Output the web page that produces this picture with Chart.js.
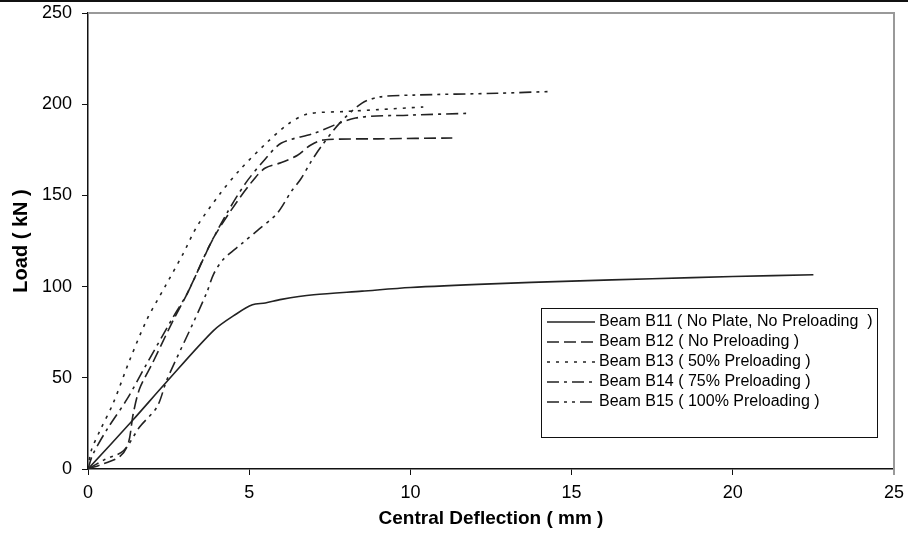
<!DOCTYPE html>
<html>
<head>
<meta charset="utf-8">
<script src="https://cdn.jsdelivr.net/npm/chart.js@4.4.1/dist/chart.umd.min.js"></script>
<style>
  html, body { margin: 0; padding: 0; background: #fff; }
  #wrap { position: relative; width: 908px; height: 540px; }
  #rule { position: absolute; left: 0; top: 0; width: 908px; height: 2px; background: #111; }
</style>
</head>
<body>
<div id="wrap">
  <canvas id="chart" width="908" height="540"></canvas>
  <div id="rule"></div>
</div>
<script>
// Load vs central deflection
const b11Defl = [0, 1.4, 2.4, 3.9, 4.6, 5.1, 5.5, 6, 7, 8.5, 10, 12.5, 15, 17.5, 20, 22.5];
const b11Load = [0, 27, 47, 76, 85, 90, 91, 93, 95.5, 97.5, 99.5, 101.5, 103, 104.3, 105.5, 106.5];

const b12Defl = [0, 0.5, 1, 1.25, 1.4, 1.6, 2, 2.6, 3.1, 3.6, 3.9, 4.6, 5.2, 5.5, 6, 6.5, 6.9, 7.3, 9, 11.3];
const b12Load = [0, 3, 7, 14, 30, 44, 58, 80, 97, 116, 127, 146, 160, 165, 168, 172, 177.5, 180.4, 181, 181.5];

const b13Defl = [0, 0.1, 0.37, 0.78, 1.3, 1.83, 2.39, 2.95, 3.38, 4.1, 4.71, 5.55, 6.2, 6.8, 8, 9, 10.4];
const b13Load = [0, 10, 21, 36, 60, 82, 100, 118, 133, 151, 164, 179, 189, 194.6, 196, 197, 198.5];

const b14Defl = [0, 0.15, 0.6, 1.2, 1.8, 2.6, 3.1, 3.7, 4.3, 4.9, 5.5, 6, 7, 8.3, 10, 11.75];
const b14Load = [0, 8, 22, 38, 57, 82, 97, 120, 140, 157, 170, 178.7, 184, 192.4, 194, 195];

const b15Defl = [0, 0.5, 1.1, 1.6, 2.14, 2.45, 3.26, 3.69, 3.9, 4.2, 4.8, 5.27, 5.86, 6.3, 6.6, 6.9, 7.2, 7.8, 8.5, 9.06, 10.1, 12.7, 14.4];
const b15Load = [0, 5, 10, 23, 34, 49, 80, 97, 107, 115, 124, 131, 140, 152, 159, 168, 176, 189.5, 200.6, 204, 205, 206, 207];

const seriesNames = [
  'Beam B11 ( No Plate, No Preloading  )',
  'Beam B12 ( No Preloading )',
  'Beam B13 ( 50% Preloading )',
  'Beam B14 ( 75% Preloading )',
  'Beam B15 ( 100% Preloading )'
];

const xTicks = [0, 5, 10, 15, 20, 25];
const yTicks = [0, 50, 100, 150, 200, 250];

const dashes = [[], [12, 5], [3, 6], [12, 5, 3, 5], [12, 5, 3, 5, 3, 5]];

function pts(xs, ys) {
  return xs.map((x, i) => ({ x: x, y: ys[i] }));
}

const allData = [
  pts(b11Defl, b11Load),
  pts(b12Defl, b12Load),
  pts(b13Defl, b13Load),
  pts(b14Defl, b14Load),
  pts(b15Defl, b15Load)
];

// legend box drawn inside the plot + grey frame on top/right
const boxLegend = {
  id: 'boxLegend',
  afterDraw(chart) {
    const ctx = chart.ctx;
    const a = chart.chartArea;
    ctx.save();
    ctx.strokeStyle = '#999';
    ctx.lineWidth = 2;
    ctx.beginPath();
    ctx.moveTo(a.left, a.top);
    ctx.lineTo(a.right, a.top);
    ctx.lineTo(a.right, a.bottom + 6);
    ctx.stroke();

    const bx = 541, by = 308, bw = 336, bh = 129;
    ctx.fillStyle = '#fff';
    ctx.fillRect(bx, by, bw, bh);
    ctx.strokeStyle = '#111';
    ctx.lineWidth = 1;
    ctx.strokeRect(bx + 0.5, by + 0.5, bw, bh);

    ctx.font = '16px "Liberation Sans", Arial, sans-serif';
    ctx.textBaseline = 'middle';
    chart.data.datasets.forEach((ds, i) => {
      const y = by + 14 + i * 20;
      ctx.strokeStyle = '#222';
      ctx.lineWidth = 1.6;
      ctx.setLineDash(ds.borderDash || []);
      ctx.beginPath();
      ctx.moveTo(bx + 6, y);
      ctx.lineTo(bx + 54, y);
      ctx.stroke();
      ctx.setLineDash([]);
      ctx.fillStyle = '#000';
      ctx.fillText(ds.label, bx + 58, y);
    });
    ctx.restore();
  }
};

new Chart(document.getElementById('chart'), {
  type: 'line',
  data: {
    datasets: allData.map((d, i) => ({
      label: seriesNames[i],
      data: d,
      borderColor: '#222',
      borderWidth: 1.6,
      borderDash: dashes[i],
      pointRadius: 0,
      fill: false,
      tension: 0.3
    }))
  },
  options: {
    responsive: false,
    animation: false,
    devicePixelRatio: 1,
    layout: { padding: { top: 13, right: 14, left: 0, bottom: 0 } },
    plugins: {
      legend: { display: false },
      tooltip: { enabled: false }
    },
    scales: {
      x: {
        type: 'linear',
        min: 0,
        max: 25,
        afterFit: s => { s.height = 71; s.paddingLeft = 0; s.paddingRight = 0; },
        afterBuildTicks: s => { s.ticks = xTicks.map(v => ({ value: v })); },
        border: { color: '#111', width: 1.5 },
        grid: { drawOnChartArea: false, drawTicks: true, tickLength: 6, color: '#111' },
        ticks: {
          color: '#000',
          padding: 7,
          maxRotation: 0,
          font: { family: '"Liberation Sans", Arial, sans-serif', size: 18 }
        },
        title: {
          display: true,
          text: 'Central Deflection ( mm )',
          color: '#000',
          padding: { top: 0, bottom: 10 },
          font: { family: '"Liberation Sans", Arial, sans-serif', size: 19, weight: 'bold' }
        }
      },
      y: {
        min: 0,
        max: 250,
        afterFit: s => { s.width = 88; s.paddingTop = 0; s.paddingBottom = 0; },
        afterBuildTicks: s => { s.ticks = yTicks.map(v => ({ value: v })); },
        border: { color: '#111', width: 1.5 },
        grid: { drawOnChartArea: false, drawTicks: true, tickLength: 6, color: '#111' },
        ticks: {
          color: '#000',
          padding: 10,
          font: { family: '"Liberation Sans", Arial, sans-serif', size: 18 }
        },
        title: {
          display: true,
          text: 'Load ( kN )',
          color: '#000',
          padding: { top: 9, bottom: 0 },
          font: { family: '"Liberation Sans", Arial, sans-serif', size: 20, weight: 'bold' }
        }
      }
    }
  },
  plugins: [boxLegend]
});
</script>
</body>
</html>
